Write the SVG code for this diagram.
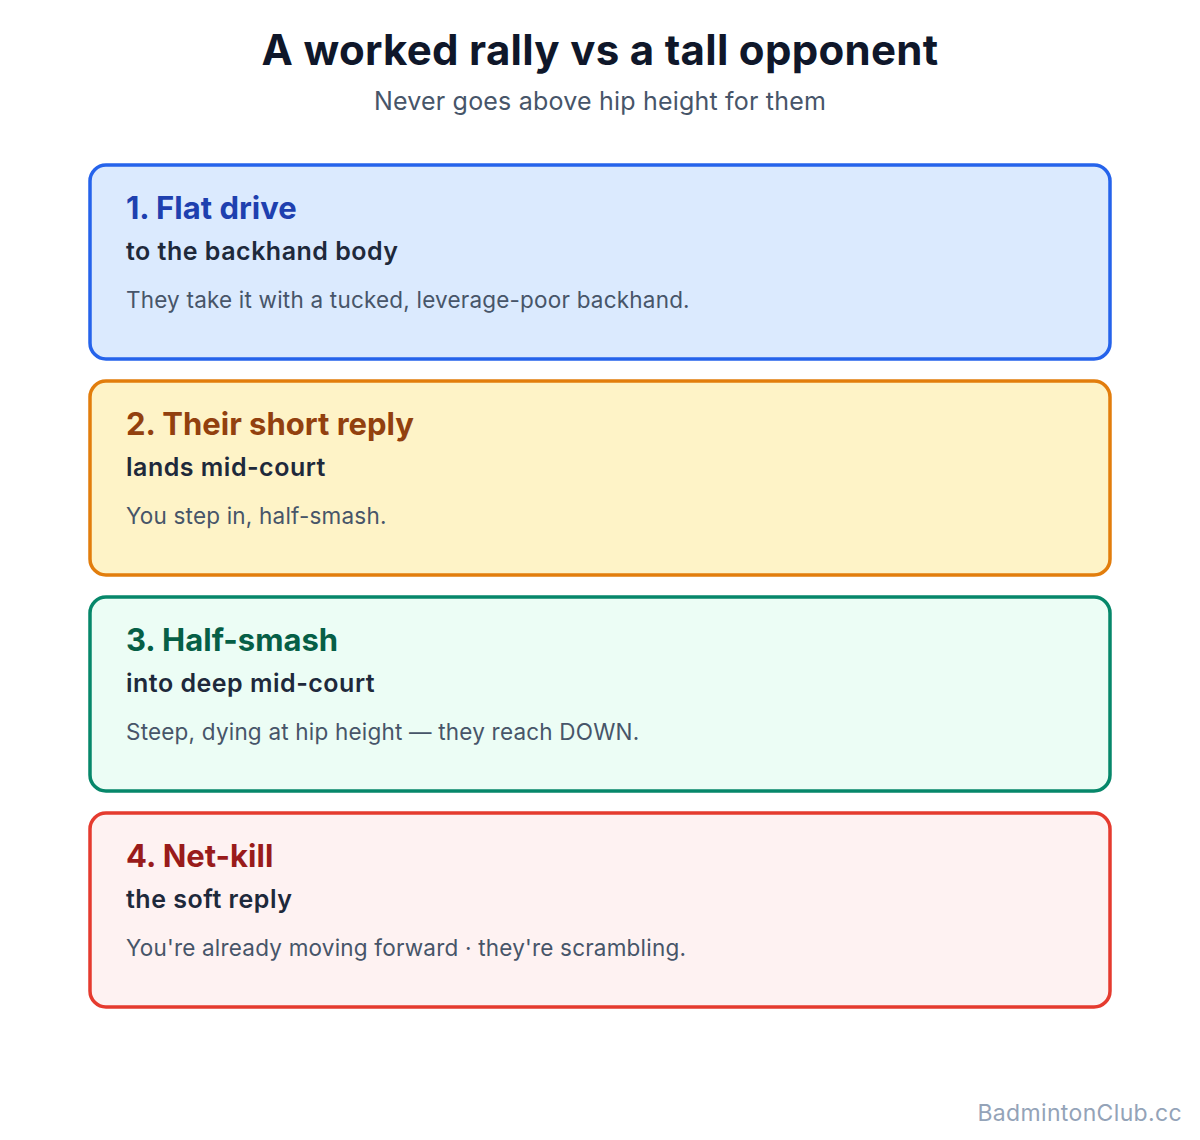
<svg xmlns="http://www.w3.org/2000/svg" width="1200" height="1140" viewBox="0 0 1200 1140">
<style>
text{font-family:Inter,"Noto Sans","Liberation Sans",sans-serif}
.title{font-size:42px;font-weight:700;fill:#0f172a;letter-spacing:0.3px}
.sub{font-size:25px;fill:#475569;letter-spacing:0.2px}
.box{stroke-width:3.5}
.h{font-size:31px;font-weight:700}
.s{font-size:25px;font-weight:600;fill:#1e293b;letter-spacing:0.5px}
.b{font-size:22.5px;fill:#475569;letter-spacing:0.2px}
.foot{font-size:23px;fill:#94a3b8;letter-spacing:0.35px}
</style>
<rect width="1200" height="1140" fill="#ffffff"/>
<text class="title" x="600" y="65" text-anchor="middle">A worked rally vs a tall opponent</text>
<text class="sub" x="600" y="110" text-anchor="middle">Never goes above hip height for them</text>
<g id="connectors"></g>
<g id="n1">
<rect class="box" x="90" y="165" width="1020" height="194" rx="16" fill="#dbeafe" stroke="#2563eb"/>
<text class="h" x="126" y="219" fill="#1e40af">1. Flat drive</text>
<text class="s" x="126" y="260">to the backhand body</text>
<text class="b" x="126" y="308">They take it with a tucked, leverage-poor backhand.</text>
</g>
<g id="n2">
<rect class="box" x="90" y="381" width="1020" height="194" rx="16" fill="#fef3c7" stroke="#e27d0c"/>
<text class="h" x="126" y="435" fill="#92400e">2. Their short reply</text>
<text class="s" x="126" y="476">lands mid-court</text>
<text class="b" x="126" y="524">You step in, half-smash.</text>
</g>
<g id="n3">
<rect class="box" x="90" y="597" width="1020" height="194" rx="16" fill="#ecfdf5" stroke="#06876a"/>
<text class="h" x="126" y="651" fill="#065f46">3. Half-smash</text>
<text class="s" x="126" y="692">into deep mid-court</text>
<text class="b" x="126" y="740">Steep, dying at hip height — they reach DOWN.</text>
</g>
<g id="n4">
<rect class="box" x="90" y="813" width="1020" height="194" rx="16" fill="#fef2f2" stroke="#e53b2f"/>
<text class="h" x="126" y="867" fill="#991b1b">4. Net-kill</text>
<text class="s" x="126" y="908">the soft reply</text>
<text class="b" x="126" y="956">You're already moving forward · they're scrambling.</text>
</g>
<text class="foot" x="1182" y="1121" text-anchor="end">BadmintonClub.cc</text>
</svg>
